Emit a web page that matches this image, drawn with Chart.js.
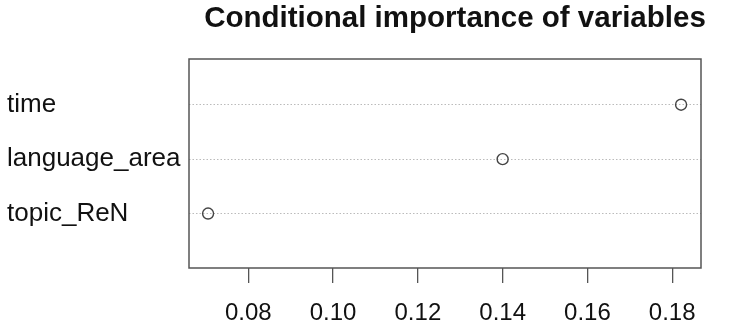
<!DOCTYPE html>
<html>
<head>
<meta charset="utf-8">
<script src="https://cdn.jsdelivr.net/npm/chart.js@4"></script>
<style>
  html, body { margin: 0; padding: 0; background: #fff; }
  #wrap { width: 734px; height: 332px; }
</style>
</head>
<body>
<div id="wrap"><canvas id="chart"></canvas></div>
<script>
const variables = ['topic_ReN', 'language_area', 'time'];
const importance = [0.0705, 0.14, 0.1821];
const xTicks = [0.08, 0.10, 0.12, 0.14, 0.16, 0.18];
const titleText = 'Conditional importance of variables';

const fontFamily = '"Liberation Sans", Arial, sans-serif';

// points: one row per variable, rows counted from the bottom
const points = variables.map((name, i) => ({ x: importance[i], y: i + 1 }));

// box round the plot + the title, R style
const boxPlugin = {
  id: 'box',
  afterDraw(chart) {
    const { ctx, chartArea } = chart;
    ctx.save();
    ctx.strokeStyle = '#555';
    ctx.lineWidth = 1.5;
    ctx.strokeRect(chartArea.left, chartArea.top, chartArea.right - chartArea.left, chartArea.bottom - chartArea.top);
    ctx.fillStyle = '#111';
    ctx.font = 'bold 29.5px ' + fontFamily;
    ctx.textAlign = 'center';
    ctx.textBaseline = 'middle';
    ctx.fillText(titleText, 455, 19);
    ctx.restore();
  },
};

const ctx = document.getElementById('chart');
const myChart = new Chart(ctx, {
  type: 'scatter',
  data: {
    datasets: [
      {
        data: points,
        pointRadius: 5.5,
        pointBorderWidth: 1.4,
        pointBorderColor: '#444',
        pointBackgroundColor: 'rgba(255,255,255,0)',
      },
    ],
  },
  options: {
    responsive: true,
    maintainAspectRatio: false,
    animation: false,
    layout: { padding: { left: 7, right: 33, top: 59, bottom: 0 } },
    plugins: { legend: { display: false }, tooltip: { enabled: false } },
    scales: {
      x: {
        type: 'linear',
        min: 0.066,
        max: 0.1868,
        afterBuildTicks: (scale) => {
          scale.ticks = xTicks.map((v) => ({ value: v }));
        },
        afterFit: (scale) => {
          scale.height = 64;
        },
        border: { display: false },
        grid: {
          drawOnChartArea: false,
          drawTicks: true,
          tickLength: 15,
          tickColor: '#555',
          lineWidth: 1.3,
        },
        ticks: {
          color: '#111',
          font: { family: fontFamily, size: 24 },
          padding: 16,
          maxRotation: 0,
          callback: (v) => Number(v).toFixed(2),
        },
      },
      y: {
        type: 'linear',
        min: 0,
        max: 3.84,
        afterBuildTicks: (scale) => {
          scale.ticks = variables.map((name, i) => ({ value: i + 1 }));
        },
        afterFit: (scale) => {
          scale.width = 182;
        },
        border: { display: false, dash: [1.5, 2] },
        grid: {
          drawTicks: false,
          color: '#bbb',
          lineWidth: 1,
        },
        ticks: {
          color: '#111',
          font: { family: fontFamily, size: 26 },
          align: 'center',
          crossAlign: 'far',
          padding: 0,
          callback: (v) => variables[v - 1],
        },
      },
    },
  },
  plugins: [boxPlugin],
});
</script>
</body>
</html>
